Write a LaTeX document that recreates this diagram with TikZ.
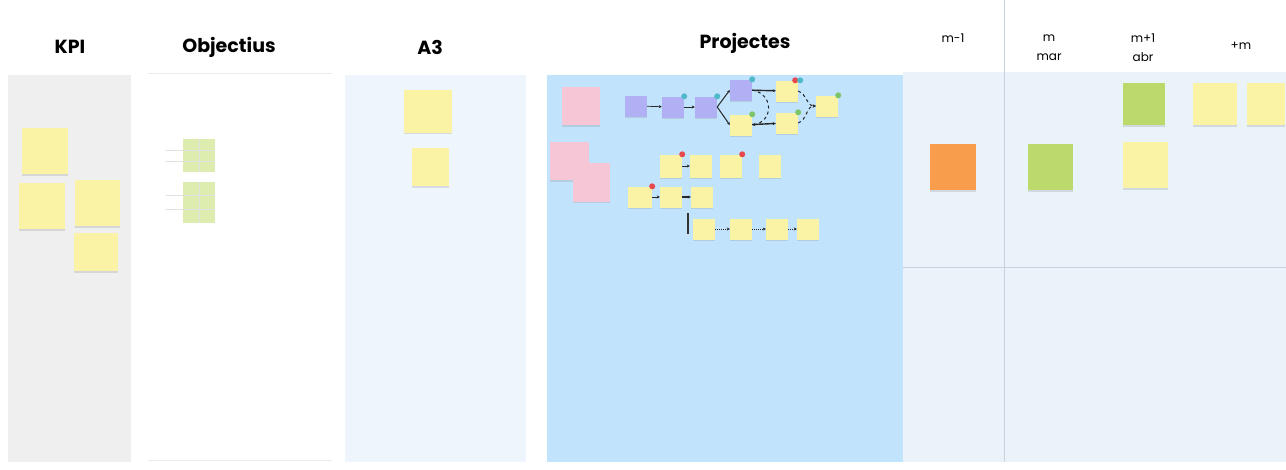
\documentclass[tikz,border=0pt]{standalone}
\usepackage{fontspec}
\setmainfont{Poppins}
\usepackage{tikz}
\usetikzlibrary{shadows,arrows.meta}
\usepackage{xcolor}
\definecolor{kpigray}{HTML}{EFEFF0}
\definecolor{athree}{HTML}{EEF5FD}
\definecolor{projblue}{HTML}{C2E3FC}
\definecolor{monthbg}{HTML}{EAF2FA}
\definecolor{gridline}{HTML}{C9D1DA}
\definecolor{noteyellow}{HTML}{FAF3A5}
\definecolor{notepink}{HTML}{F7C6D6}
\definecolor{notepurple}{HTML}{B1B0F5}
\definecolor{noteorange}{HTML}{F79D4B}
\definecolor{notegreen}{HTML}{BCD96B}
\definecolor{dotteal}{HTML}{4FB9C9}
\definecolor{dotgreen}{HTML}{7CC46A}
\definecolor{dotred}{HTML}{E5484D}
\definecolor{tablegreen}{HTML}{DDEDB0}
\tikzstyle{note}=[rectangle, inner sep=0pt, drop shadow={shadow xshift=0pt, shadow yshift=-1.5pt, opacity=0.22}]
\tikzstyle{ynote}=[note, fill=noteyellow]
\tikzstyle{big}=[minimum width=46pt, minimum height=46pt]
\tikzstyle{small}=[minimum width=22pt, minimum height=21pt]
\tikzstyle{dot}=[circle, inner sep=0pt, minimum size=6pt]
\tikzstyle{flow}=[-{Stealth[length=3pt,width=3pt]}, line width=1pt, draw=black!85]
\tikzstyle{link}=[flow, dashed]
\tikzstyle{title}=[font=\bfseries\fontsize{19}{22}\selectfont]
\tikzstyle{month}=[font=\fontsize{12}{19}\selectfont, align=center]

\begin{document}
\begin{tikzpicture}[x=1pt,y=-1pt]
\useasboundingbox (0,0) rectangle (1286,469);
\fill[white] (0,0) rectangle (1286,469);
\fill[kpigray] (8,75) rectangle (131,462);
\draw[black!8] (148,73) -- (332,73);
\draw[black!8] (148,460) -- (332,460);
\fill[athree] (345,75) rectangle (526,462);
\fill[projblue] (547,75) rectangle (903,462);
\fill[monthbg] (903,72) rectangle (1286,462);
\draw[gridline] (1004,0) -- (1004,462);
\draw[gridline] (903,267) -- (1286,267);

\node[title] (hkpi) at (70,47) {KPI};
\node[title] (hobj) at (229,47) {Objectius};
\node[title] (ha3) at (430,47) {A3};
\node[title] (hproj) at (745,43) {Projectes};
\node[month] (hm1) at (953,38) {m-1};
\node[month] (hm) at (1049,48) {m\\mar};
\node[month] (hm2) at (1143,48) {m+1\\abr};
\node[month] (hmp) at (1241,46) {+m};

% KPI
\node[ynote, big] (k1) at (45,151) {};
\node[ynote, big] (k2) at (42,206) {};
\node[ynote, minimum width=45pt, minimum height=46pt] (k3) at (97,203) {};
\node[ynote, minimum width=44pt, minimum height=38pt] (k4) at (96,252) {};

% Objectius
\fill[white] (166,137) rectangle (215,172);
\fill[tablegreen] (183,139) rectangle (215,172);
\draw[black!12] (166,150) -- (215,150) (166,161) -- (215,161) (199,139) -- (199,172);
\fill[white] (166,180) rectangle (215,223);
\fill[tablegreen] (183,182) rectangle (215,223);
\draw[black!12] (166,195) -- (215,195) (166,209) -- (215,209) (199,182) -- (199,223);

% A3
\node[ynote, minimum width=48pt, minimum height=43pt] (a1) at (428,111) {};
\node[ynote, minimum width=37pt, minimum height=38pt] (a2) at (430,167) {};

% Projectes
\node[note, fill=notepink, minimum width=38pt, minimum height=38pt] (pk1) at (581,106) {};
\node[note, fill=notepink, minimum width=39pt, minimum height=38pt] (pk2) at (569,161) {};
\node[note, fill=notepink, minimum width=37pt, minimum height=39pt] (pk3) at (591,182) {};

\node[note, fill=notepurple, small] (p1) at (636,106) {};
\node[note, fill=notepurple, small] (p2) at (673,107) {};
\node[note, fill=notepurple, small] (p3) at (706,107) {};
\node[note, fill=notepurple, small] (p4) at (741,90) {};
\node[ynote, small] (y1) at (787,91) {};
\node[ynote, small] (y2) at (741,125) {};
\node[ynote, small] (y3) at (787,123) {};
\node[ynote, small] (y4) at (827,106) {};
\draw[flow, line width=0.7pt] (p1) -- (p2);
\draw[flow, line width=0.7pt] (p2) -- (p3);
\draw[flow] (p3.east) -- (p4.west);
\draw[flow] (p3.east) -- (y2.west);
\draw[flow, line width=1.4pt] (p4) -- (y1);
\draw[flow, line width=1.4pt] (y2) -- (y3);
\draw[link] (p4.east) to[out=-10,in=10,looseness=1.6] (y2.east);
\draw[link] (y1.east) to[out=-20,in=180] (y4.west);
\draw[link] (y3.east) to[out=20,in=180] (y4.west);
\node[dot, fill=dotteal] (dp2) at (p2.north east) {};
\node[dot, fill=dotteal] (dp3) at (p3.north east) {};
\node[dot, fill=dotteal] (dp4) at (p4.north east) {};
\node[dot, fill=dotred] (dy1a) at ([xshift=-3pt]y1.north east) {};
\node[dot, fill=dotteal] (dy1b) at ([xshift=2pt]y1.north east) {};
\node[dot, fill=dotgreen] (dy2) at (y2.north east) {};
\node[dot, fill=dotgreen] (dy3) at (y3.north east) {};
\node[dot, fill=dotgreen] (dy4) at (y4.north east) {};

\node[ynote, small, minimum height=23pt] (r2a) at (671,166) {};
\node[ynote, small, minimum height=23pt] (r2b) at (701,166) {};
\node[ynote, small, minimum height=23pt] (r2c) at (731,166) {};
\node[ynote, small, minimum height=23pt] (r2d) at (770,166) {};
\node[dot, fill=dotred] (dr2a) at (r2a.north east) {};
\node[dot, fill=dotred] (dr2c) at (r2c.north east) {};
\draw[flow, line width=0.7pt] (r2a) -- (r2b);

\node[ynote, small, minimum width=24pt] (r3a) at (640,197) {};
\node[ynote, small] (r3b) at (671,197) {};
\node[ynote, small] (r3c) at (702,197) {};
\node[dot, fill=dotred] (dr3a) at (r3a.north east) {};
\draw[flow] (r3a) -- (r3b);
\draw[flow, line width=1.4pt] (r3b) -- (r3c);

\node[ynote, small] (r4a) at (704,229) {};
\node[ynote, small] (r4b) at (741,229) {};
\node[ynote, small] (r4c) at (777,229) {};
\node[ynote, small] (r4d) at (808,229) {};
\coordinate (bt) at (688,213);
\coordinate (bb) at (688,234);
\draw[line width=1.4pt, black!80] (bt) -- (bb);
\draw[flow, densely dotted] (r4a) -- (r4b);
\draw[flow, densely dotted] (r4b) -- (r4c);
\draw[flow, densely dotted] (r4c) -- (r4d);

% months
\node[note, fill=noteorange, big] (o1) at (953,167) {};
\node[note, fill=notegreen, minimum width=45pt, minimum height=46pt] (g1) at (1050,167) {};
\node[note, fill=notegreen, minimum width=42pt, minimum height=42pt] (g2) at (1144,104) {};
\node[ynote, minimum width=45pt, minimum height=46pt] (m1) at (1145,165) {};
\node[ynote, minimum width=44pt, minimum height=42pt] (pm1) at (1215,104) {};
\node[ynote, minimum width=38pt, minimum height=42pt] (pm2) at (1266,104) {};
\end{tikzpicture}
\end{document}
